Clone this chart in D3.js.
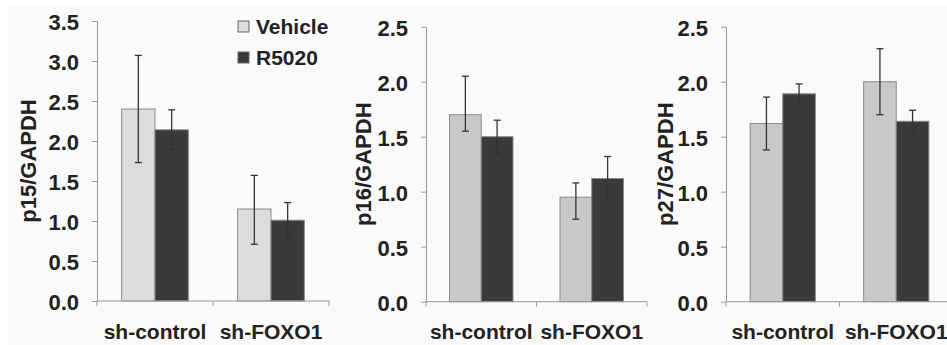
<!DOCTYPE html>
<html>
<head>
<meta charset="utf-8">
<script src="https://cdnjs.cloudflare.com/ajax/libs/d3/7.8.5/d3.min.js"></script>
<style>
  body { margin: 0; background: #fff; }
  svg { display: block; font-family: "Liberation Sans", Arial, sans-serif; }
</style>
</head>
<body>
<svg width="947" height="345"></svg>
<script>
// data (bar value, error bar top, error bar bottom)
const groups = ['sh-control', 'sh-FOXO1'];
const series = ['Vehicle', 'R5020'];

const p15Vehicle = [2.40, 1.15];
const p15VehicleHi = [3.07, 1.57];
const p15VehicleLo = [1.73, 0.71];
const p15R5020 = [2.14, 1.01];
const p15R5020Hi = [2.39, 1.23];
const p15R5020Lo = [1.89, 0.79];

const p16Vehicle = [1.70, 0.95];
const p16VehicleHi = [2.05, 1.08];
const p16VehicleLo = [1.55, 0.75];
const p16R5020 = [1.50, 1.12];
const p16R5020Hi = [1.65, 1.32];
const p16R5020Lo = [1.35, 0.92];

const p27Vehicle = [1.62, 2.00];
const p27VehicleHi = [1.86, 2.30];
const p27VehicleLo = [1.38, 1.70];
const p27R5020 = [1.89, 1.64];
const p27R5020Hi = [1.98, 1.74];
const p27R5020Lo = [1.80, 1.54];

const panels = [
    {label: 'p15/GAPDH', max: 3.5,
     vals: [p15Vehicle, p15R5020], his: [p15VehicleHi, p15R5020Hi], los: [p15VehicleLo, p15R5020Lo],
     x0: 97, x1: 329, yTop: 21, yBot: 301, labelX: 28, vehColor: '#dcdcdc'},
    {label: 'p16/GAPDH', max: 2.5,
     vals: [p16Vehicle, p16R5020], his: [p16VehicleHi, p16R5020Hi], los: [p16VehicleLo, p16R5020Lo],
     x0: 426, x1: 647, yTop: 26.7, yBot: 301.7, labelX: 363, vehColor: '#c8c8c8'},
    {label: 'p27/GAPDH', max: 2.5,
     vals: [p27Vehicle, p27R5020], his: [p27VehicleHi, p27R5020Hi], los: [p27VehicleLo, p27R5020Lo],
     x0: 726, x1: 953, yTop: 26.7, yBot: 301.7, labelX: 665, vehColor: '#c8c8c8'}
];

const darkColor = '#3a3a3a';
const axisColor = '#999';
const textColor = '#222';

const svg = d3.select('svg');

// faint off-white plot background
svg.append('rect')
    .attr('x', 8).attr('y', 6)
    .attr('width', 947).attr('height', 345)
    .attr('fill', '#fafafa');

panels.forEach(p => {
    const g = svg.append('g');

    const yScale = d3.scaleLinear()
        .domain([0, p.max])
        .range([p.yBot, p.yTop]);

    const xScale = d3.scaleBand()
        .domain(groups)
        .range([p.x0, p.x1]);

    const xSub = d3.scaleBand()
        .domain(series)
        .range([0, xScale.bandwidth()])
        .paddingInner(0)
        .paddingOuter(0.74);

    const yAxis = d3.axisLeft(yScale)
        .tickValues(d3.range(0, p.max + 0.01, 0.5))
        .tickFormat(d3.format('.1f'))
        .tickSize(5)
        .tickPadding(13)
        .tickSizeOuter(0);

    const yAxisG = g.append('g')
        .attr('transform', `translate(${p.x0},0)`)
        .call(yAxis);

    yAxisG.selectAll('.domain, line').attr('stroke', axisColor);
    yAxisG.selectAll('text')
        .style('font-size', '22px')
        .style('font-weight', 'bold')
        .attr('dy', '0.4em')
        .attr('fill', textColor);

    // bars
    series.forEach((s, si) => {
        g.selectAll('.bar' + si)
            .data(groups)
            .enter().append('rect')
            .attr('x', d => xScale(d) + xSub(s))
            .attr('y', (d, i) => yScale(p.vals[si][i]))
            .attr('width', xSub.bandwidth())
            .attr('height', (d, i) => p.yBot - yScale(p.vals[si][i]))
            .attr('fill', si === 0 ? p.vehColor : darkColor)
            .attr('stroke', '#8a8a8a')
            .attr('stroke-width', 1);
    });

    // error bars
    series.forEach((s, si) => {
        groups.forEach((d, i) => {
            const cx = xScale(d) + xSub(s) + xSub.bandwidth() / 2;
            const hi = yScale(p.his[si][i]);
            const lo = yScale(p.los[si][i]);
            const eg = g.append('g')
                .attr('stroke', '#333')
                .attr('stroke-width', 1.3);
            eg.append('line').attr('x1', cx).attr('x2', cx).attr('y1', hi).attr('y2', lo);
            eg.append('line').attr('x1', cx - 3.5).attr('x2', cx + 3.5).attr('y1', hi).attr('y2', hi);
            eg.append('line').attr('x1', cx - 3.5).attr('x2', cx + 3.5).attr('y1', lo).attr('y2', lo);
        });
    });

    // x axis
    const xAxisG = g.append('g')
        .attr('transform', `translate(0,${p.yBot})`);
    xAxisG.append('line')
        .attr('x1', p.x0).attr('x2', p.x1)
        .attr('stroke', axisColor);
    xAxisG.selectAll('.xtick')
        .data([p.x0, p.x0 + xScale.step(), p.x1])
        .enter().append('line')
        .attr('x1', d => d).attr('x2', d => d)
        .attr('y1', 0).attr('y2', 5)
        .attr('stroke', axisColor);

    g.selectAll('.xlabel')
        .data(groups)
        .enter().append('text')
        .attr('x', d => xScale(d) + xScale.bandwidth() / 2)
        .attr('y', 339)
        .attr('text-anchor', 'middle')
        .attr('font-size', 21)
        .attr('font-weight', 'bold')
        .attr('fill', textColor)
        .text(d => d);

    g.append('text')
        .attr('transform', `translate(${p.labelX},${(p.yTop + p.yBot) / 2}) rotate(-90)`)
        .attr('text-anchor', 'middle')
        .attr('dy', '0.35em')
        .attr('font-size', 22)
        .attr('font-weight', 'bold')
        .attr('fill', textColor)
        .text(p.label);
});

// legend
const legend = svg.append('g')
    .selectAll('.legend')
    .data(series)
    .enter().append('g')
    .attr('transform', (d, i) => `translate(238,${21 + i * 31})`);

legend.append('rect')
    .attr('width', 11)
    .attr('height', 11)
    .attr('fill', (d, i) => i === 0 ? '#dcdcdc' : darkColor)
    .attr('stroke', '#666');

legend.append('text')
    .attr('x', 18)
    .attr('y', 5.5)
    .attr('dy', '0.36em')
    .attr('font-size', 21)
    .attr('font-weight', 'bold')
    .attr('fill', textColor)
    .text(d => d);
</script>
</body>
</html>
